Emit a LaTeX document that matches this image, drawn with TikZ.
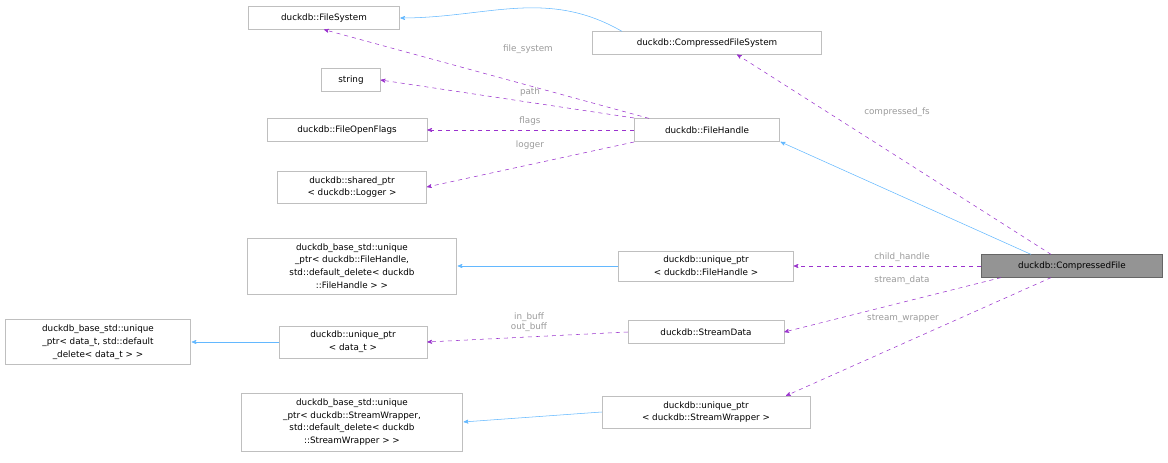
\documentclass[tikz,border=0pt]{standalone}
\usepackage{fontspec}
\setmainfont{DejaVu Sans}
\usetikzlibrary{positioning, arrows, calc}
\definecolor{edgeblue}{HTML}{63B8FF}
\definecolor{edgepurple}{HTML}{9A32CD}
\definecolor{boxgray}{HTML}{BFBFBF}
\definecolor{labelgray}{HTML}{9A9A9A}
\tikzset{
>=stealth', % filled arrow heads
box/.style={draw=boxgray, fill=white, font=\fontsize{6.6}{9.6}\selectfont, align=center, inner sep=2pt, inner ysep=4pt, minimum height=17pt},
inherit/.style={->, edgeblue, thin, shorten >=0.5pt},
usage/.style={->, edgepurple, thin, dashed},
lbl/.style={text=labelgray, font=\fontsize{6.6}{7.6}\selectfont, align=center, inner sep=1pt},
}
\begin{document}
\begin{tikzpicture}[x=0.75pt, y=-0.75pt, >={stealth'[scale=1.4]}]
\useasboundingbox (0,0) rectangle (1168,463);
% left column
\node[box, minimum width=113pt] (fs) at (324,18) {duckdb::FileSystem};
\node[box, minimum width=44pt] (str) at (351,80) {string};
\node[box, minimum width=120pt] (flags) at (347,130) {duckdb::FileOpenFlags};
\node[box, minimum width=112pt] (logger) at (352,187) {duckdb::shared\_ptr\\< duckdb::Logger >};
\node[box, minimum width=157pt] (basefh) at (352,266) {duckdb\_base\_std::unique\\\_ptr< duckdb::FileHandle,\\ std::default\_delete< duckdb\\::FileHandle > >};
\node[box, minimum width=111pt] (updata) at (353,342) {duckdb::unique\_ptr\\< data\_t >};
\node[box, minimum width=139pt] (basedata) at (98,342) {duckdb\_base\_std::unique\\\_ptr< data\_t, std::default\\\_delete< data\_t > >};
\node[box, minimum width=166pt] (basesw) at (352,422) {duckdb\_base\_std::unique\\\_ptr< duckdb::StreamWrapper,\\ std::default\_delete< duckdb\\::StreamWrapper > >};
% middle column
\node[box, minimum width=172pt] (cfs) at (707,43) {duckdb::CompressedFileSystem};
\node[box, minimum width=109pt] (fh) at (707,130) {duckdb::FileHandle};
\node[box, minimum width=131pt] (upfh) at (706,266) {duckdb::unique\_ptr\\< duckdb::FileHandle >};
\node[box, minimum width=117pt] (sd) at (706,332) {duckdb::StreamData};
\node[box, minimum width=156pt] (upsw) at (706,412) {duckdb::unique\_ptr\\< duckdb::StreamWrapper >};
% the class
\node[box, minimum width=136pt, fill=black!42, draw=black!60, text=black] (cf) at (1072,266) {duckdb::CompressedFile};

\draw[inherit] ($(cfs.north west)+(30,0)$) to[out=150, in=0] (fs.east);
\draw[usage] ($(fh.north west)+(15,0)$) -- (fs.south);
\node[lbl] (lfs) at (528,49) {file\_system};
\draw[usage] ($(fh.west)+(0,-12)$) -- (str.east);
\node[lbl] (lpath) at (530,92) {path};
\draw[usage] (fh.west) -- (flags.east);
\node[lbl] (lflags) at (530,121) {flags};
\draw[usage] ($(fh.west)+(0,12)$) -- (logger.east);
\node[lbl] (llog) at (530,145) {logger};
\draw[inherit] ($(cf.north west)+(50,0)$) -- (fh.south east);
\draw[usage] ($(cf.north west)+(70,0)$) -- ($(cfs.south)+(30,0)$);
\node[lbl] (lcfs) at (897,112) {compressed\_fs};
\draw[usage] (cf.west) -- (upfh.east);
\node[lbl] (lch) at (902,257) {child\_handle};
\draw[usage] ($(cf.south west)+(20,0)$) -- (sd.east);
\node[lbl] (lsd) at (902,280) {stream\_data};
\draw[usage] ($(cf.south west)+(70,0)$) -- ($(upsw.north)+(80,0)$);
\node[lbl] (lsw) at (903,318) {stream\_wrapper};
\draw[usage] (sd.west) -- (updata.east);
\node[lbl] (lbuf) at (529,322) {in\_buff\\out\_buff};
\draw[inherit] (upfh.west) -- (basefh.east);
\draw[inherit] (updata.west) -- (basedata.east);
\draw[inherit] (upsw.west) -- (basesw.east);
\end{tikzpicture}
\end{document}
